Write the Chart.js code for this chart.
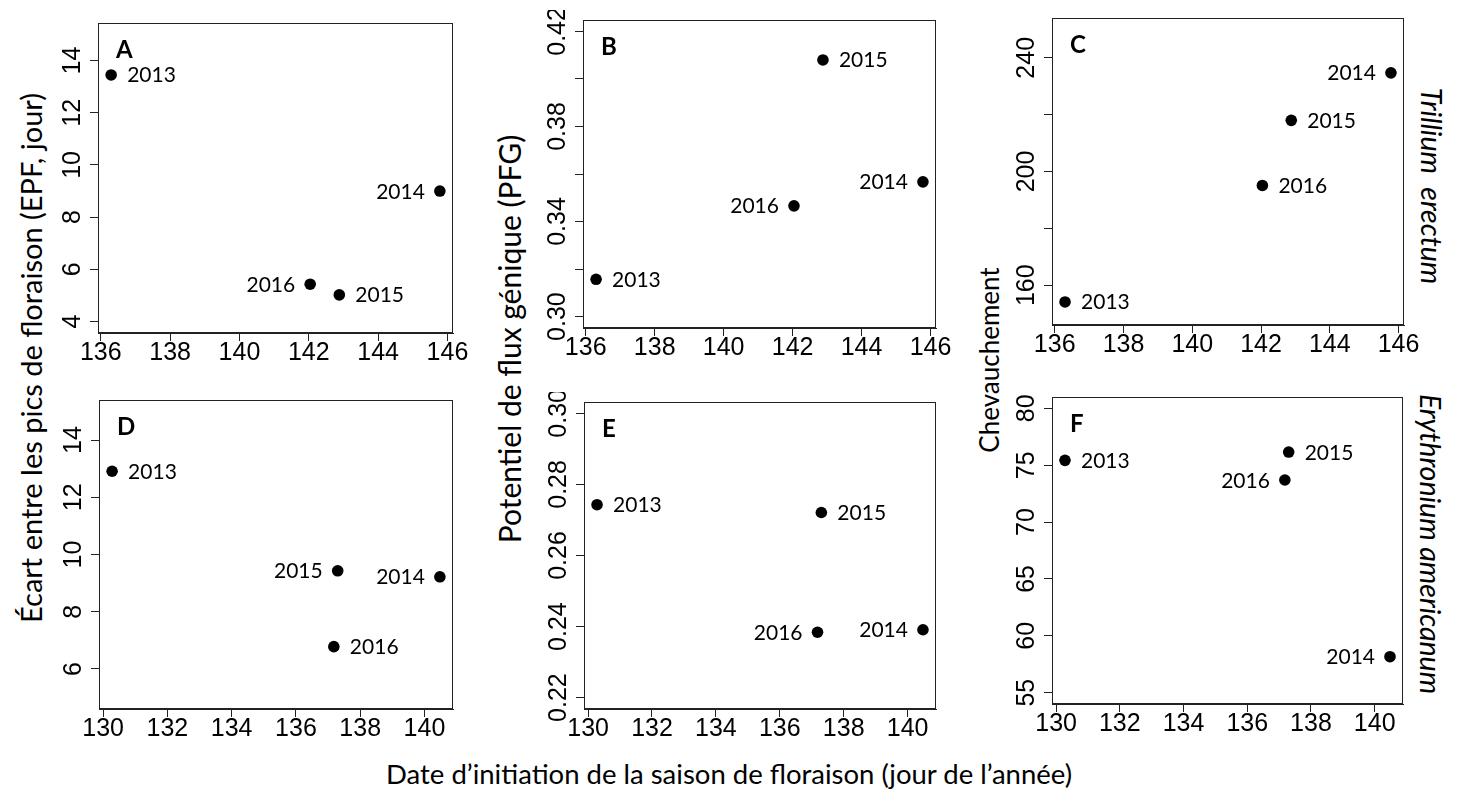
<!DOCTYPE html>
<html>
<head>
<meta charset="utf-8">
<script src="https://cdn.jsdelivr.net/npm/chart.js@4.4.1/dist/chart.umd.min.js"></script>
<style>
  body { margin: 0; background: #fff; width: 1462px; height: 789px; position: relative; overflow: hidden; font-family: Lato, sans-serif; color: #000; }
  canvas { position: absolute; }
  .title { position: absolute; white-space: nowrap; font-size: 27.5px; transform: translate(-50%, -50%); }
  .title.up { transform: translate(-50%, -50%) rotate(-90deg); }
  .title.down { transform: translate(-50%, -50%) rotate(90deg); font-style: italic; font-size: 28.5px; }
</style>
</head>
<body>
<div class="title up" style="left:30px; top:358px; font-size:29px;">Écart entre les pics de floraison (EPF, jour)</div>
<div class="title up" style="left:509px; top:339px; font-size:30px;">Potentiel de flux génique (PFG)</div>
<div class="title up" style="left:989px; top:360px; font-size:26px;">Chevauchement</div>
<div class="title down" style="left:1432px; top:186px;">Trillium&nbsp;&nbsp;erectum</div>
<div class="title down" style="left:1431px; top:544px;">Erythronium americanum</div>
<div class="title" style="left:729px; top:773px;">Date d’initiation de la saison de floraison (jour de l’année)</div>

<script>
const years = ['2013', '2014', '2015', '2016'];

// start of the flowering season (day of year)
const trilliumStart = [136.30, 145.78, 142.88, 142.04];
const erythroniumStart = [130.28, 140.48, 137.30, 137.18];

// responses
const trilliumEPF = [13.45, 9.00, 5.02, 5.43];
const trilliumPFG = [0.3157, 0.3567, 0.4080, 0.3466];
const trilliumOverlap = [154.1, 234.7, 218.0, 195.1];
const erythroniumEPF = [12.91, 9.22, 9.43, 6.78];
const erythroniumPFG = [0.2743, 0.2391, 0.2721, 0.2384];
const erythroniumOverlap = [75.43, 58.16, 76.16, 73.70];

// axes
const trilliumXTicks = [136, 138, 140, 142, 144, 146];
const erythroniumXTicks = [130, 132, 134, 136, 138, 140];

const epfTrilliumTicks = [4, 6, 8, 10, 12, 14];
const epfTrilliumLabels = ['4', '6', '8', '10', '12', '14'];
const pfgTrilliumTicks = [0.30, 0.32, 0.34, 0.36, 0.38, 0.40, 0.42];
const pfgTrilliumLabels = ['0.30', '0.34', '0.38', '0.42'];
const overlapTrilliumTicks = [160, 180, 200, 220, 240];
const overlapTrilliumLabels = ['160', '200', '240'];
const epfErythroniumTicks = [6, 8, 10, 12, 14];
const epfErythroniumLabels = ['6', '8', '10', '12', '14'];
const pfgErythroniumTicks = [0.22, 0.24, 0.26, 0.28, 0.30];
const pfgErythroniumLabels = ['0.22', '0.24', '0.26', '0.28', '0.30'];
const overlapErythroniumTicks = [55, 60, 65, 70, 75, 80];
const overlapErythroniumLabels = ['55', '60', '65', '70', '75', '80'];

// which side of the point each year label sits on
const sidesA = ['right', 'left', 'right', 'left'];
const sidesB = ['right', 'left', 'right', 'left'];
const sidesC = ['right', 'left', 'right', 'right'];
const sidesD = ['right', 'left', 'left', 'right'];
const sidesE = ['right', 'left', 'right', 'left'];
const sidesF = ['right', 'left', 'right', 'left'];

const panels = [
  { letter: 'A', box: [98, 23, 453, 333], x: trilliumStart, y: trilliumEPF, ylim: [4, 15], xTicks: trilliumXTicks, yTicks: epfTrilliumTicks, yLabels: epfTrilliumLabels, sides: sidesA },
  { letter: 'B', box: [583, 20, 936, 328], x: trilliumStart, y: trilliumPFG, ylim: [0.30, 0.42], xTicks: trilliumXTicks, yTicks: pfgTrilliumTicks, yLabels: pfgTrilliumLabels, sides: sidesB },
  { letter: 'C', box: [1052, 18, 1404, 325], x: trilliumStart, y: trilliumOverlap, ylim: [150, 250], xTicks: trilliumXTicks, yTicks: overlapTrilliumTicks, yLabels: overlapTrilliumLabels, sides: sidesC },
  { letter: 'D', box: [99, 400, 453, 709], x: erythroniumStart, y: erythroniumEPF, ylim: [5, 15], xTicks: erythroniumXTicks, yTicks: epfErythroniumTicks, yLabels: epfErythroniumLabels, sides: sidesD },
  { letter: 'E', box: [584, 402, 936, 709], x: erythroniumStart, y: erythroniumPFG, ylim: [0.22, 0.30], xTicks: erythroniumXTicks, yTicks: pfgErythroniumTicks, yLabels: pfgErythroniumLabels, sides: sidesE },
  { letter: 'F', box: [1052, 397, 1403, 704], x: erythroniumStart, y: erythroniumOverlap, ylim: [55, 80], xTicks: erythroniumXTicks, yTicks: overlapErythroniumTicks, yLabels: overlapErythroniumLabels, sides: sidesF }
];

const LINE = '#222';
const TICK_FONT = "'Liberation Sans', Arial, Helvetica, sans-serif";

// R pads each axis range by 4% on both sides
function rlim(values) {
  const lo = Math.min(...values);
  const hi = Math.max(...values);
  const pad = (hi - lo) * 0.04;
  return [lo - pad, hi + pad];
}

function panelDecor(p) {
  return {
    id: 'panelDecor',
    afterDraw(chart) {
      const { ctx, chartArea: a, scales } = chart;
      ctx.save();

      // full box around the plot region
      ctx.strokeStyle = LINE;
      ctx.lineWidth = 1;
      ctx.strokeRect(Math.round(a.left) + 0.5, Math.round(a.top) + 0.5,
        Math.round(a.right - a.left) - 1, Math.round(a.bottom - a.top) - 1);

      // y tick labels, rotated like R's las = 0
      ctx.fillStyle = '#000';
      ctx.font = '25px ' + TICK_FONT;
      ctx.textAlign = 'center';
      ctx.textBaseline = 'alphabetic';
      p.yLabels.forEach((t) => {
        const y = scales.y.getPixelForValue(parseFloat(t));
        ctx.save();
        ctx.translate(a.left - 18, y);
        ctx.rotate(-Math.PI / 2);
        ctx.fillText(t, 0, 0);
        ctx.restore();
      });

      // year next to each point
      ctx.font = '21px Lato';
      const meta = chart.getDatasetMeta(0);
      meta.data.forEach((pt, i) => {
        const right = p.sides[i] === 'right';
        ctx.textAlign = right ? 'left' : 'right';
        ctx.fillText(years[i], pt.x + (right ? 16 : -15), pt.y + 7.5);
      });

      // panel letter
      ctx.font = 'bold 24px Lato';
      ctx.textAlign = 'left';
      ctx.fillText(p.letter, a.left + 18, a.top + 35);
      ctx.restore();
    }
  };
}

function drawPanel(p) {
  const [left, top, right, bottom] = p.box;
  const padL = 80, padT = 10, padR = 30, padB = 50;

  const canvas = document.createElement('canvas');
  canvas.width = right - left + padL + padR;
  canvas.height = bottom - top + padT + padB;
  canvas.style.left = (left - padL) + 'px';
  canvas.style.top = (top - padT) + 'px';
  document.body.appendChild(canvas);

  const xlim = rlim(p.x);
  const ylim = rlim(p.ylim);
  const grid = { drawOnChartArea: false, drawTicks: true, tickLength: 8, tickWidth: 1, tickColor: LINE };
  const border = { display: true, color: LINE, width: 1 };

  new Chart(canvas, {
    type: 'scatter',
    data: {
      datasets: [{
        data: p.x.map((x, i) => ({ x, y: p.y[i] })),
        pointRadius: 5.8,
        pointHoverRadius: 5.8,
        backgroundColor: '#000',
        borderWidth: 0
      }]
    },
    options: {
      responsive: false,
      animation: false,
      events: [],
      layout: { padding: { top: padT, right: padR, left: 0, bottom: 0 } },
      plugins: { legend: { display: false }, tooltip: { enabled: false } },
      scales: {
        x: {
          type: 'linear',
          min: xlim[0],
          max: xlim[1],
          afterBuildTicks: (s) => { s.ticks = p.xTicks.map((value) => ({ value })); },
          afterFit: (s) => { s.height = padB; },
          grid,
          border,
          ticks: {
            padding: 0,
            color: '#000',
            font: { family: TICK_FONT, size: 25, lineHeight: 1 },
            maxRotation: 0,
            autoSkip: false,
            callback: (v) => String(v)
          }
        },
        y: {
          type: 'linear',
          min: ylim[0],
          max: ylim[1],
          afterBuildTicks: (s) => { s.ticks = p.yTicks.map((value) => ({ value })); },
          afterFit: (s) => { s.width = padL; },
          grid,
          border,
          ticks: { display: false }
        }
      }
    },
    plugins: [panelDecor(p)]
  });
}

panels.forEach(drawPanel);
</script>
</body>
</html>
